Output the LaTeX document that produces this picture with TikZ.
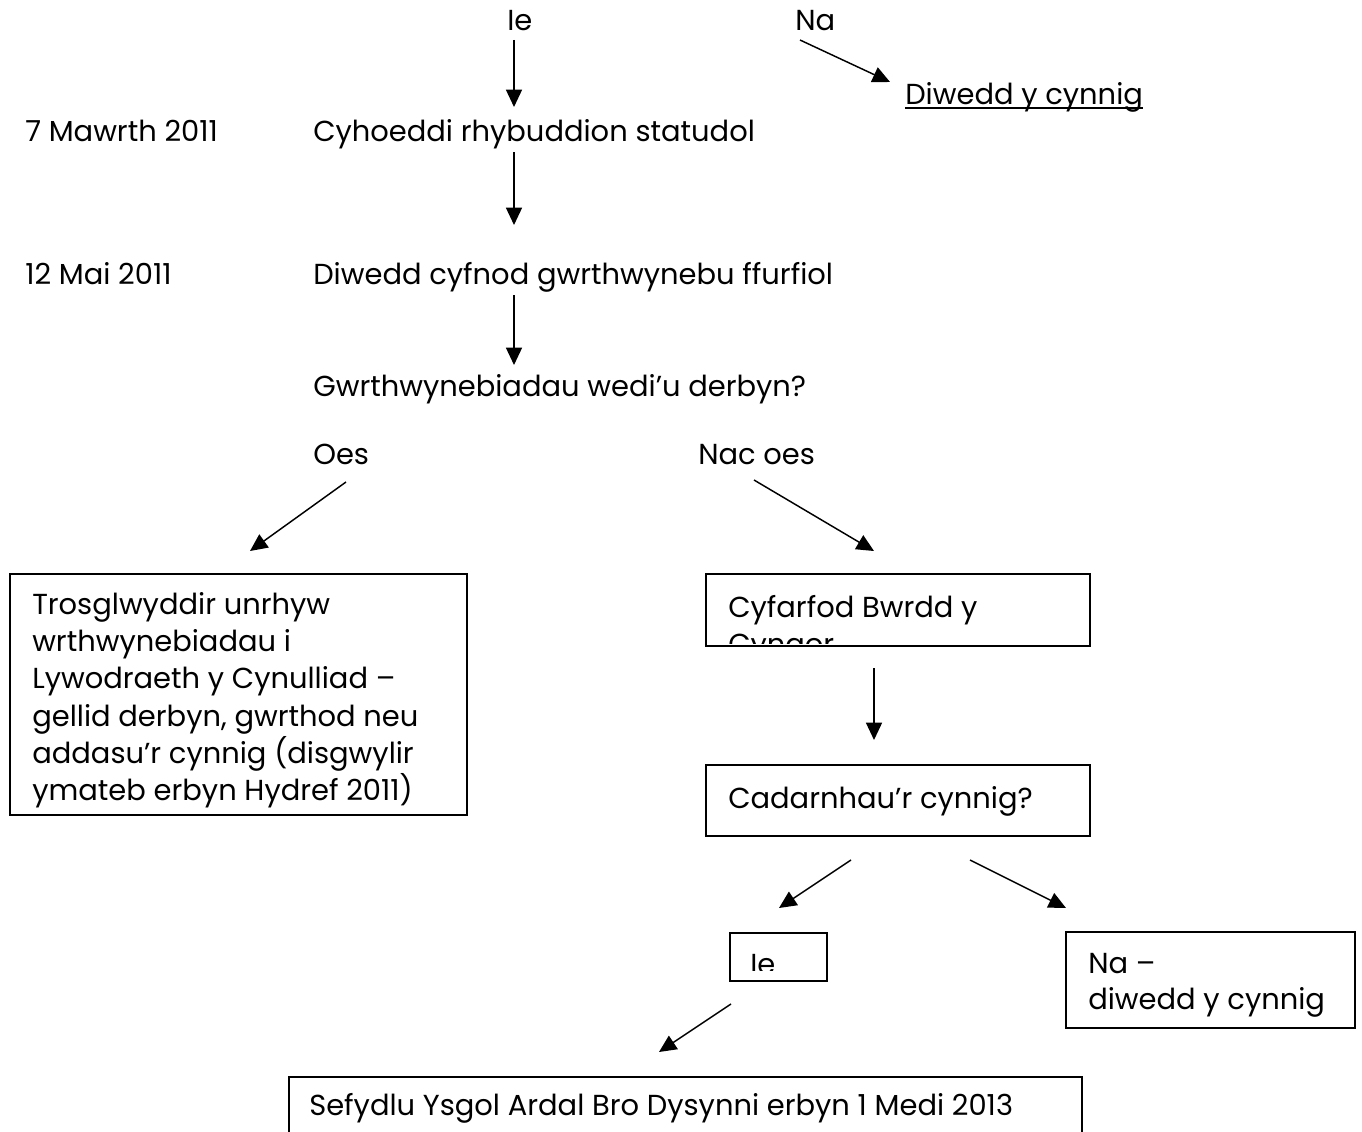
\documentclass[tikz,border=0pt]{standalone}
\usepackage{fontspec}
\setmainfont{Poppins}
\usetikzlibrary{arrows.meta,fit}
\begin{document}
\begin{tikzpicture}[x=0.75pt,y=-0.75pt,
  txt/.style={anchor=base west, inner sep=0pt, font=\fontsize{21.7}{27}\selectfont},
  boxx/.style={draw, line width=1.4pt, inner sep=0pt},
  arr/.style={-{Triangle[length=13pt,width=12pt]}, line width=1.1pt}]
\useasboundingbox (0,0) rectangle (1362,1131);

% top labels
\node[txt] (ie) at (507,31) {Ie};
\node[txt] (na) at (795,31) {Na};
\node[txt] (dyc) at (905,104) {Diwedd y cynnig};
\draw[line width=0.9pt] ([yshift=-3pt]dyc.base west) -- ([yshift=-3pt]dyc.base east);

\node[txt] (d1) at (25,141) {7 Mawrth 2011};
\node[txt] (s1) at (313,141) {Cyhoeddi rhybuddion statudol};
\node[txt] (d2) at (25,284) {12 Mai 2011};
\node[txt] (s2) at (313,284) {Diwedd cyfnod gwrthwynebu ffurfiol};
\node[txt] (q1) at (313,396) {Gwrthwynebiadau wedi’u derbyn?};
\node[txt] (oes) at (313,464) {Oes};
\node[txt] (nacoes) at (698,464) {Nac oes};

% boxes
\coordinate (b1a) at (10,574);   \coordinate (b1b) at (467,815);
\coordinate (b2a) at (706,574);  \coordinate (b2b) at (1090,646);
\coordinate (b3a) at (706,765);  \coordinate (b3b) at (1090,836);
\coordinate (b4a) at (730,933);  \coordinate (b4b) at (827,981);
\coordinate (b5a) at (1066,932); \coordinate (b5b) at (1355,1028);
\coordinate (b6a) at (289,1077); \coordinate (b6b) at (1082,1145);
\node[boxx, fit=(b1a)(b1b)] (box1) {};
\node[boxx, fit=(b2a)(b2b)] (box2) {};
\node[boxx, fit=(b3a)(b3b)] (box3) {};
\node[boxx, fit=(b4a)(b4b)] (box4) {};
\node[boxx, fit=(b5a)(b5b)] (box5) {};
\node[boxx, fit=(b6a)(b6b)] (box6) {};

% box texts
\node[txt] (t1) at (32,614) {Trosglwyddir unrhyw};
\node[txt] (t2) at (32,651) {wrthwynebiadau i};
\node[txt] (t3) at (32,688) {Lywodraeth y Cynulliad –};
\node[txt] (t4) at (32,726) {gellid derbyn, gwrthod neu};
\node[txt] (t5) at (32,763) {addasu’r cynnig (disgwylir};
\node[txt] (t6) at (32,800) {ymateb erbyn Hydref 2011)};

\begin{scope}
  \clip (708,576) rectangle (1088,643);
  \node[txt] (c1) at (728,617) {Cyfarfod Bwrdd y};
  \node[txt] (c2) at (728,654) {Cyngor};
\end{scope}

\node[txt] (cad) at (728,808) {Cadarnhau’r cynnig?};

\begin{scope}
  \clip (732,935) rectangle (825,970);
  \node[txt] (ie2) at (750,974) {Ie};
\end{scope}

\node[txt] (n1) at (1088,973) {Na –};
\node[txt] (n2) at (1088,1009) {diwedd y cynnig};

\node[txt] (sef) at (309,1115) {Sefydlu Ysgol Ardal Bro Dysynni erbyn 1 Medi 2013};

% arrows
\coordinate (a1s) at (514,40);   \coordinate (a1e) at (514,107);
\coordinate (a2s) at (800,40);   \coordinate (a2e) at (890,82);
\coordinate (a3s) at (514,152);  \coordinate (a3e) at (514,225);
\coordinate (a4s) at (514,295);  \coordinate (a4e) at (514,365);
\coordinate (a5s) at (346,482);  \coordinate (a5e) at (250,551);
\coordinate (a6s) at (754,480);  \coordinate (a6e) at (874,551);
\coordinate (a7s) at (874,668);  \coordinate (a7e) at (874,740);
\coordinate (a8s) at (851,860);  \coordinate (a8e) at (779,908);
\coordinate (a9s) at (970,860);  \coordinate (a9e) at (1066,908);
\coordinate (a10s) at (731,1004); \coordinate (a10e) at (659,1052);
\foreach \i in {1,...,10} {\draw[arr] (a\i s) -- (a\i e);}
\end{tikzpicture}
\end{document}
